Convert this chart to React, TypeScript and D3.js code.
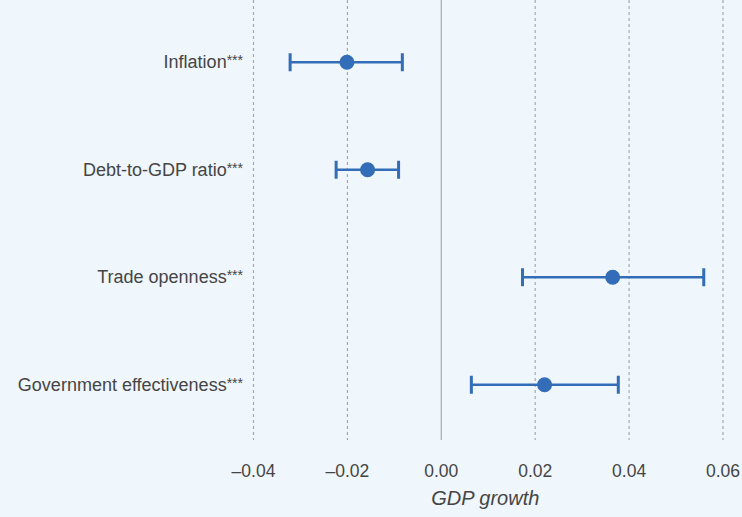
import * as d3 from "d3";

const W = 742;
const H = 517;

const categories = [
  "Inflation",
  "Debt-to-GDP ratio",
  "Trade openness",
  "Government effectiveness",
];
const estimates = [-0.0201, -0.0157, 0.0365, 0.022];
const lower = [-0.0322, -0.0224, 0.0173, 0.0064];
const upper = [-0.0083, -0.0091, 0.0559, 0.0377];
const stars = ["***", "***", "***", "***"];
const xTicks = [-0.04, -0.02, 0, 0.02, 0.04, 0.06];

const BLUE = "#336cb7";
const TEXT = "#454545";
const FONT = "'Liberation Sans', Arial, sans-serif";

export default function App() {
  const x = d3.scaleLinear().domain([-0.04, 0.06]).range([253.5, 723]);
  const y = d3.scalePoint<string>().domain(categories).range([8.5, 438.5]).padding(0.5);
  const fmt = (v: number) => (v < 0 ? "\u2013" : "") + d3.format(".2f")(Math.abs(v));

  return (
    <svg
      width={W}
      height={H}
      style={{ position: "fixed", top: 0, left: 0, display: "block" }}
    >
      <rect width={W} height={H} fill="#eff6fc" />

      {xTicks.map((t) => (
        <line
          key={t}
          x1={x(t)}
          x2={x(t)}
          y1={0}
          y2={440}
          stroke="#a9a9a9"
          strokeWidth={1.2}
          strokeDasharray={t === 0 ? undefined : "3,3"}
        />
      ))}

      {xTicks.map((t) => (
        <text
          key={"l" + t}
          x={x(t)}
          y={472}
          textAnchor="middle"
          dominantBaseline="middle"
          fontFamily={FONT}
          fontSize={17.5}
          fill={TEXT}
        >
          {fmt(t)}
        </text>
      ))}

      <text
        x={x(0.01) - 3}
        y={500}
        textAnchor="middle"
        dominantBaseline="middle"
        fontFamily={FONT}
        fontSize={20}
        fontStyle="italic"
        fill={TEXT}
      >
        GDP growth
      </text>

      {categories.map((c, i) => {
        const cy = y(c)!;
        return (
          <g key={c}>
            <text
              x={243}
              y={cy + 1}
              textAnchor="end"
              dominantBaseline="middle"
              fontFamily={FONT}
              fontSize={18}
              fill={TEXT}
            >
              {c}
              <tspan fontSize={14} dy={-2}>
                {stars[i]}
              </tspan>
            </text>
            <line
              x1={x(lower[i])}
              x2={x(upper[i])}
              y1={cy}
              y2={cy}
              stroke={BLUE}
              strokeWidth={2.5}
            />
            {[lower[i], upper[i]].map((v, k) => (
              <line
                key={k}
                x1={x(v)}
                x2={x(v)}
                y1={cy - 9}
                y2={cy + 9}
                stroke={BLUE}
                strokeWidth={3}
              />
            ))}
            <circle cx={x(estimates[i])} cy={cy} r={7.5} fill={BLUE} />
          </g>
        );
      })}
    </svg>
  );
}
